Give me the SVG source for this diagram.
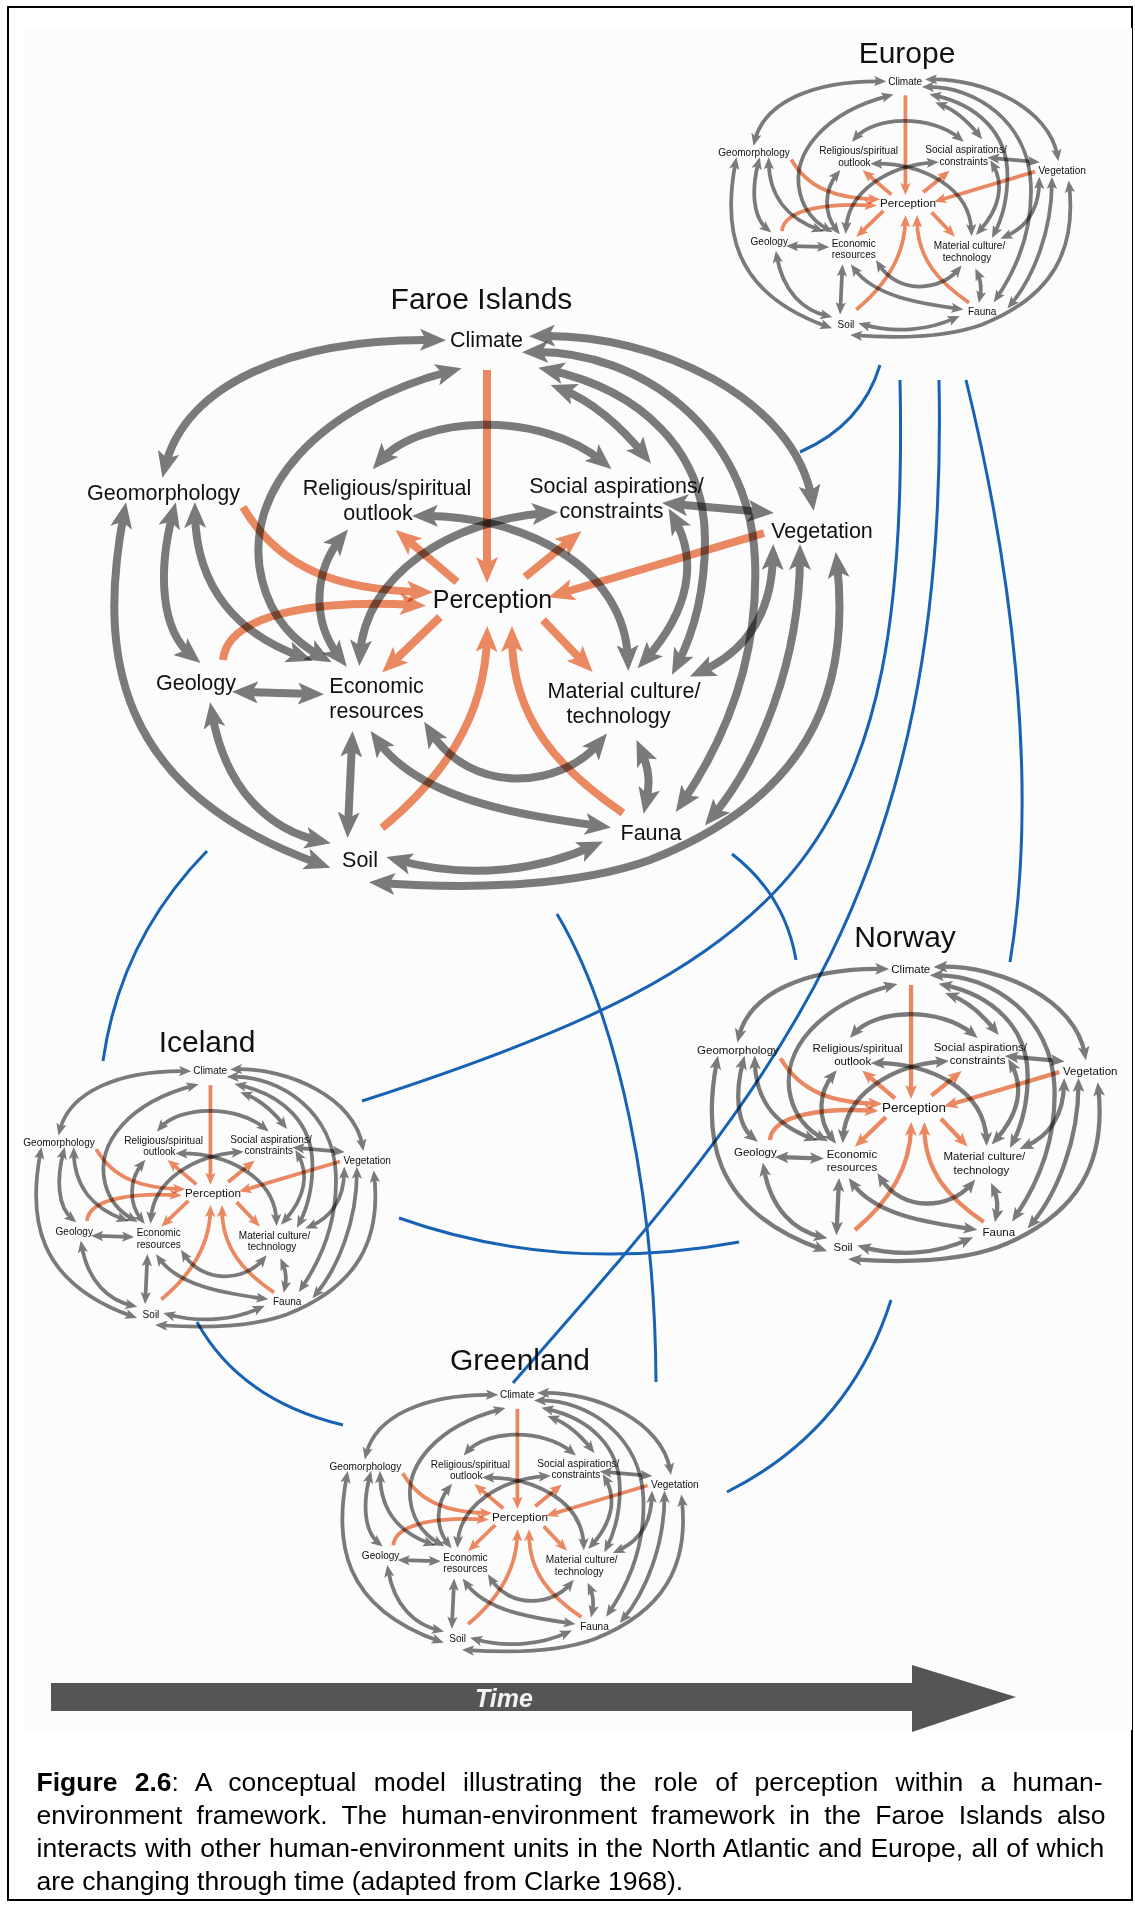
<svg xmlns="http://www.w3.org/2000/svg" xmlns:xlink="http://www.w3.org/1999/xlink" width="1135" height="1905" viewBox="0 0 1135 1905">
  <style>
    .g { fill: none; stroke: #7b7b7b; stroke-width: 8; marker-start: url(#hg); marker-end: url(#hg); mix-blend-mode: multiply; }
    .o { fill: none; stroke: #ed8a63; stroke-width: 8; marker-end: url(#ho); mix-blend-mode: multiply; }
    .lb { font-family: "Liberation Sans", Arial, sans-serif; font-size: 21.5px; text-anchor: middle; fill: #111; }
    .pc { font-size: 25px; }
    .ttl { font-family: "Liberation Sans", Arial, sans-serif; font-size: 30px; text-anchor: middle; fill: #111; }
    .link { fill: none; stroke: #1862b3; stroke-width: 3; }
    .cap { font-family: "Liberation Sans", Arial, sans-serif; font-size: 26.5px; fill: #000; }
  </style>
  <defs>
    <marker id="hg" viewBox="0 0 26 22" refX="15" refY="11" markerWidth="26" markerHeight="22" markerUnits="userSpaceOnUse" orient="auto-start-reverse">
      <path d="M0,0 L26,11 L0,22 L6,11 Z" fill="#7b7b7b"/>
    </marker>
    <marker id="ho" viewBox="0 0 26 22" refX="15" refY="11" markerWidth="26" markerHeight="22" markerUnits="userSpaceOnUse" orient="auto">
      <path d="M0,0 L26,11 L0,22 L6,11 Z" fill="#ed8a63"/>
    </marker>
  </defs>

  <!-- page frame and figure panel -->
  <rect x="8" y="7" width="1124" height="1893" fill="#fff" stroke="#000" stroke-width="2"/>
  <rect x="24" y="28" width="1108" height="1702" fill="#fcfcfc"/>

  <!-- links between human-environment units -->
  <g id="unit-links">
    <path class="link" d="M880,365 Q862,425 800,452"/>
    <path class="link" d="M900,380 C910,850 800,960 362,1101"/>
    <path class="link" d="M939,380 C950,900 760,1100 513,1383"/>
    <path class="link" d="M966,380 C1010,560 1040,780 1010,962"/>
    <path class="link" d="M207,851 Q120,940 103,1061"/>
    <path class="link" d="M557,914 C620,1020 655,1200 656,1382"/>
    <path class="link" d="M732,854 Q785,895 796,960"/>
    <path class="link" d="M399,1218 Q560,1275 739,1242"/>
    <path class="link" d="M197,1322 Q240,1400 343,1425"/>
    <path class="link" d="M891,1300 Q850,1430 727,1492"/>
  </g>

  <!-- Faroe Islands system (reused at smaller scale for the other units) -->
  <g id="faroe">
    <g id="faroe-connectors">
      <!-- two-way interactions -->
      <path class="g" d="M165,467 C185,385 290,338 435,340"/>
      <path class="g" d="M451,371 C320,405 240,490 262,580 C272,620 295,642 322,657"/>
      <path class="g" d="M540,336 C655,333 795,398 812,500"/>
      <path class="g" d="M533,352 C640,350 750,430 755,560 C759,660 725,740 682,803"/>
      <path class="g" d="M549,370 C640,390 705,450 705,540 C705,600 690,640 677,665"/>
      <path class="g" d="M561,389 C590,400 620,425 644,455"/>
      <path class="g" d="M380,461 C420,415 540,410 603,462"/>
      <path class="g" d="M423,516 C520,515 625,565 628,660"/>
      <path class="g" d="M547,513 C450,520 365,575 360,655"/>
      <path class="g" d="M673,504 L763,512"/>
      <path class="g" d="M674,518 C698,560 690,610 645,660"/>
      <path class="g" d="M773,555 C772,610 750,650 700,672"/>
      <path class="g" d="M800,555 C800,660 760,760 712,817"/>
      <path class="g" d="M837,563 C852,700 802,800 650,860 C580,885 480,890 380,883"/>
      <path class="g" d="M124,513 C98,650 112,790 320,864"/>
      <path class="g" d="M173,513 C158,570 160,630 192,656"/>
      <path class="g" d="M195,513 C196,590 240,635 302,657"/>
      <path class="g" d="M341,538 C315,570 310,620 340,658"/>
      <path class="g" d="M243,692 L313,694"/>
      <path class="g" d="M212,713 C225,790 270,830 320,841"/>
      <path class="g" d="M352,742 L348,827"/>
      <path class="g" d="M377,740 C420,800 520,815 600,826"/>
      <path class="g" d="M430,731 C470,795 560,790 600,742"/>
      <path class="g" d="M641,750 C650,770 650,785 646,803"/>
      <path class="g" d="M397,860 C470,880 540,870 593,846"/>
      <!-- links to and from perception -->
      <path class="o" d="M487,370 L487,572"/>
      <path class="o" d="M457,582 L404,537"/>
      <path class="o" d="M525,577 L573,538"/>
      <path class="o" d="M764,533 L559,594"/>
      <path class="o" d="M243,507 C280,570 340,590 422,592"/>
      <path class="o" d="M223,660 C228,610 330,600 415,605"/>
      <path class="o" d="M440,617 L390,665"/>
      <path class="o" d="M543,620 L585,664"/>
      <path class="o" d="M382,828 C440,780 485,720 487,637"/>
      <path class="o" d="M623,813 C560,770 512,720 512,637"/>
    </g>
    <g id="climate"><text class="lb" x="486.5" y="347">Climate</text></g>
    <g id="geomorphology"><text class="lb" x="163.5" y="500">Geomorphology</text></g>
    <g id="religious"><text class="lb" x="387" y="495">Religious/spiritual</text><text class="lb" x="378" y="520">outlook</text></g>
    <g id="social"><text class="lb" x="616.5" y="493">Social aspirations/</text><text class="lb" x="611.5" y="518">constraints</text></g>
    <g id="vegetation"><text class="lb" x="822" y="538">Vegetation</text></g>
    <g id="perception"><text class="lb pc" x="492.5" y="608">Perception</text></g>
    <g id="geology"><text class="lb" x="196" y="690">Geology</text></g>
    <g id="economic"><text class="lb" x="376.5" y="693">Economic</text><text class="lb" x="376.5" y="718">resources</text></g>
    <g id="material"><text class="lb" x="624" y="698">Material culture/</text><text class="lb" x="618.5" y="723">technology</text></g>
    <g id="soil"><text class="lb" x="360" y="867">Soil</text></g>
    <g id="fauna"><text class="lb" x="651" y="840">Fauna</text></g>
  </g>

  <!-- the other units -->
  <use id="europe" xlink:href="#faroe" href="#faroe" transform="translate(677.5,-77.8) scale(0.468)"/>
  <use id="norway" xlink:href="#faroe" href="#faroe" transform="translate(650.5,787) scale(0.535)"/>
  <use id="iceland" xlink:href="#faroe" href="#faroe" transform="translate(-17.5,912) scale(0.468)"/>
  <use id="greenland" xlink:href="#faroe" href="#faroe" transform="translate(288.5,1235) scale(0.47)"/>

  <!-- unit titles -->
  <g id="titles">
    <text class="ttl" x="481.5" y="309">Faroe Islands</text>
    <text class="ttl" x="907" y="63">Europe</text>
    <text class="ttl" x="905" y="947">Norway</text>
    <text class="ttl" x="207" y="1052">Iceland</text>
    <text class="ttl" x="520" y="1370">Greenland</text>
  </g>

  <!-- time arrow -->
  <g id="time">
    <path d="M51,1683 L912,1683 L912,1665 L1016,1697 L912,1732 L912,1711 L51,1711 Z" fill="#555"/>
    <text x="504" y="1707" font-family="Liberation Sans, Arial, sans-serif" font-size="25" font-weight="bold" font-style="italic" fill="#f2f2f2" text-anchor="middle">Time</text>
  </g>

  <!-- caption -->
  <g id="caption">
    <text class="cap" x="36.5" y="1791" word-spacing="9.9"><tspan font-weight="bold">Figure 2.6</tspan>: A conceptual model illustrating the role of perception within a human-</text>
    <text class="cap" x="36.5" y="1824" word-spacing="6.9">environment framework. The human-environment framework in the Faroe Islands also</text>
    <text class="cap" x="36.5" y="1857" word-spacing="0.9">interacts with other human-environment units in the North Atlantic and Europe, all of which</text>
    <text class="cap" x="36.5" y="1890">are changing through time (adapted from Clarke 1968).</text>
  </g>
</svg>
